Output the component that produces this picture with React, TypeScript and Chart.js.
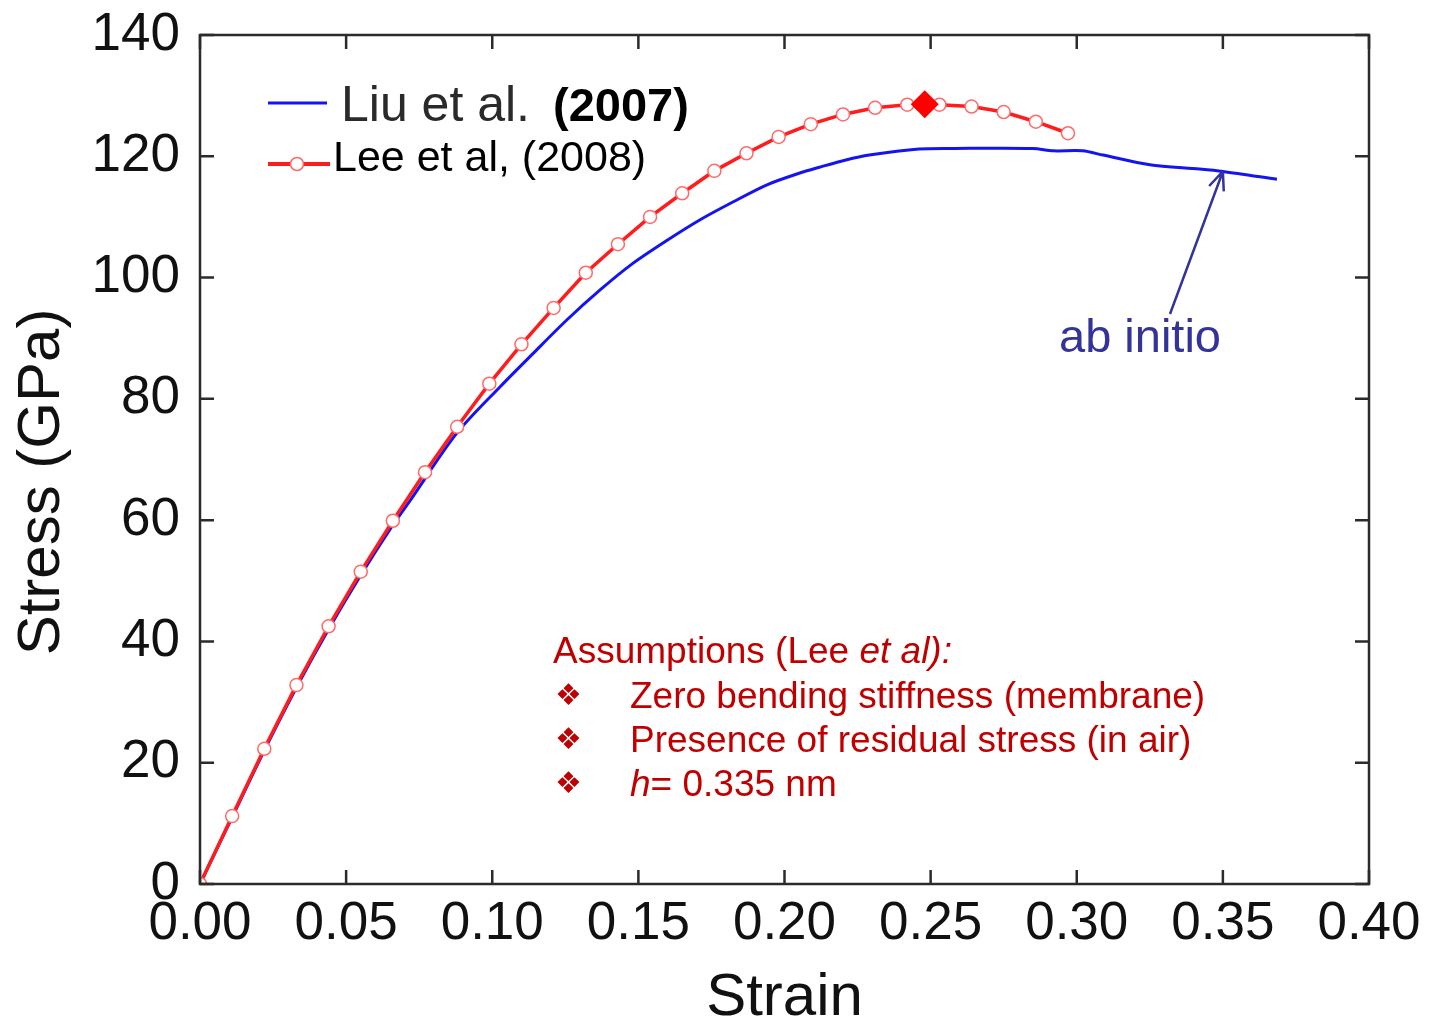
import React, { useEffect, useRef } from "react";
import { Chart, registerables } from "chart.js";

Chart.register(...registerables);

// ---- data ----
const X_TICKS = [0, 0.05, 0.1, 0.15, 0.2, 0.25, 0.3, 0.35, 0.4];
const Y_TICKS = [0, 20, 40, 60, 80, 100, 120, 140];

// Liu et al. (2007) ab initio curve
const LIU_STRAIN = [0, 0.011, 0.022, 0.033, 0.044, 0.055, 0.066, 0.072, 0.0878, 0.1027, 0.114, 0.1255, 0.137, 0.148, 0.16, 0.171, 0.1825, 0.194, 0.205, 0.212, 0.221, 0.229, 0.246, 0.258, 0.285, 0.292, 0.302, 0.309, 0.325, 0.342, 0.35, 0.3685];
const LIU_STRESS = [0, 11, 22, 32.4, 42, 50.9, 59.2, 63.3, 74.3, 82.0, 87.5, 93.0, 98.0, 102.3, 106.2, 109.5, 112.5, 115.3, 117.2, 118.2, 119.4, 120.2, 121.2, 121.3, 121.3, 120.9, 120.9, 120.2, 118.6, 117.9, 117.5, 116.2];

// Lee et al. (2008) curve
const LEE_STRAIN = [0, 0.011, 0.022, 0.033, 0.044, 0.055, 0.066, 0.077, 0.088, 0.099, 0.11, 0.121, 0.132, 0.143, 0.154, 0.165, 0.176, 0.187, 0.198, 0.209, 0.22, 0.231, 0.242, 0.253, 0.264, 0.275, 0.286, 0.297];
const LEE_STRESS = [0, 11.2, 22.3, 32.8, 42.5, 51.5, 59.9, 67.9, 75.4, 82.5, 89.0, 95.0, 100.8, 105.5, 110.0, 113.9, 117.6, 120.5, 123.2, 125.3, 126.9, 128.0, 128.5, 128.5, 128.2, 127.3, 125.7, 123.8];

// failure point (filled diamond)
const PEAK_STRAIN = [0.248];
const PEAK_STRESS = [128.6];

// ab initio arrow target
const ARROW_STRAIN = 0.35;
const ARROW_STRESS = 117.5;

const Y_TITLE = "Stress (GPa)";
const LEGEND_LABELS = ["Liu et al.", "(2007)", "Lee et al, (2008)"];
const NOTE_LINES = [
  "Zero bending stiffness (membrane)",
  "Presence of residual stress (in air)",
  "= 0.335 nm",
];

const FONT = '"Liberation Sans", Arial, Helvetica, sans-serif';
const RED = "#ff1c1c";
const BLUE = "#1414f0";
const NOTE_RED = "#c00000";
const INDIGO = "#333399";

const decorPlugin = {
  id: "decor",
  afterDraw(chart: any) {
    const { ctx, chartArea, scales } = chart;
    const { left, right, top, bottom } = chartArea;
    const xs = scales.x;
    const ys = scales.y;
    ctx.save();
    // frame
    ctx.strokeStyle = "#2b2b2b";
    ctx.lineWidth = 2.5;
    ctx.strokeRect(left, top, right - left, bottom - top);
    // inward ticks
    const tl = 14;
    ctx.beginPath();
    X_TICKS.forEach((v) => {
      const px = xs.getPixelForValue(v);
      ctx.moveTo(px, bottom);
      ctx.lineTo(px, bottom - tl);
      ctx.moveTo(px, top);
      ctx.lineTo(px, top + tl);
    });
    Y_TICKS.forEach((v) => {
      const py = ys.getPixelForValue(v);
      ctx.moveTo(left, py);
      ctx.lineTo(left + tl, py);
      ctx.moveTo(right, py);
      ctx.lineTo(right - tl, py);
    });
    ctx.stroke();

    // y-axis title
    ctx.save();
    ctx.translate(42, 482);
    ctx.rotate(-Math.PI / 2);
    ctx.textAlign = "center";
    ctx.textBaseline = "middle";
    ctx.fillStyle = "#111";
    ctx.font = `60px ${FONT}`;
    ctx.fillText(Y_TITLE, 0, 0);
    ctx.restore();

    // legend
    ctx.lineCap = "butt";
    ctx.strokeStyle = BLUE;
    ctx.lineWidth = 3;
    ctx.beginPath();
    ctx.moveTo(268, 103);
    ctx.lineTo(327, 103);
    ctx.stroke();
    ctx.textBaseline = "alphabetic";
    ctx.textAlign = "left";
    ctx.fillStyle = "#2a2a2a";
    ctx.font = `50px ${FONT}`;
    ctx.fillText(LEGEND_LABELS[0], 341, 121);
    ctx.fillStyle = "#000";
    ctx.font = `bold 47px ${FONT}`;
    ctx.fillText(LEGEND_LABELS[1], 553, 121);

    ctx.strokeStyle = RED;
    ctx.lineWidth = 4;
    ctx.beginPath();
    ctx.moveTo(268, 164);
    ctx.lineTo(330, 164);
    ctx.stroke();
    ctx.beginPath();
    ctx.arc(297, 164, 6.5, 0, Math.PI * 2);
    ctx.fillStyle = "#fff";
    ctx.fill();
    ctx.lineWidth = 1.5;
    ctx.strokeStyle = "#ff6666";
    ctx.stroke();
    ctx.fillStyle = "#000";
    ctx.font = `43px ${FONT}`;
    ctx.fillText(LEGEND_LABELS[2], 333, 171);

    // assumptions note
    ctx.fillStyle = NOTE_RED;
    ctx.font = `37px ${FONT}`;
    let x0 = 553;
    const a = "Assumptions (Lee ";
    ctx.fillText(a, x0, 663);
    x0 += ctx.measureText(a).width;
    ctx.font = `italic 37px ${FONT}`;
    ctx.fillText("et al):", x0, 663);

    const baselines = [708, 752, 796];
    baselines.forEach((b, i) => {
      ctx.font = `30px "DejaVu Sans", sans-serif`;
      ctx.fillText("\u2756", 555, b - 3);
      if (i === 2) {
        ctx.font = `italic 37px ${FONT}`;
        ctx.fillText("h", 630, b);
        const w = ctx.measureText("h").width;
        ctx.font = `37px ${FONT}`;
        ctx.fillText(NOTE_LINES[i], 630 + w, b);
      } else {
        ctx.font = `37px ${FONT}`;
        ctx.fillText(NOTE_LINES[i], 630, b);
      }
    });

    // ab initio label + arrow
    ctx.fillStyle = INDIGO;
    ctx.font = `47px ${FONT}`;
    ctx.fillText("ab initio", 1059, 352);
    const tx = xs.getPixelForValue(ARROW_STRAIN);
    const ty = ys.getPixelForValue(ARROW_STRESS);
    const sx = 1170;
    const sy = 314;
    ctx.strokeStyle = INDIGO;
    ctx.lineWidth = 2.5;
    ctx.beginPath();
    ctx.moveTo(sx, sy);
    ctx.lineTo(tx, ty);
    const ang = Math.atan2(ty - sy, tx - sx);
    const hl = 20;
    ctx.moveTo(tx, ty);
    ctx.lineTo(tx - hl * Math.cos(ang - 0.4), ty - hl * Math.sin(ang - 0.4));
    ctx.moveTo(tx, ty);
    ctx.lineTo(tx - hl * Math.cos(ang + 0.4), ty - hl * Math.sin(ang + 0.4));
    ctx.stroke();
    ctx.restore();
  },
};

export default function App() {
  const ref = useRef<HTMLCanvasElement>(null);
  useEffect(() => {
    if (!ref.current) return;
    const chart = new Chart(ref.current, {
      type: "line",
      data: {
        datasets: [
          {
            label: "peak",
            data: PEAK_STRAIN.map((x, i) => ({ x, y: PEAK_STRESS[i] })),
            showLine: false,
            pointStyle: "rectRot",
            pointRadius: 14,
            pointBackgroundColor: "#ff0000",
            pointBorderColor: "#ff0000",
            pointBorderWidth: 0,
            order: 0,
          },
          {
            label: "Lee et al, (2008)",
            data: LEE_STRAIN.map((x, i) => ({ x, y: LEE_STRESS[i] })),
            borderColor: RED,
            borderWidth: 3.5,
            pointRadius: 6.5,
            pointBackgroundColor: "#ffffff",
            pointBorderColor: "#ff6a6a",
            pointBorderWidth: 1.5,
            tension: 0,
            order: 1,
          },
          {
            label: "Liu et al. (2007)",
            data: LIU_STRAIN.map((x, i) => ({ x, y: LIU_STRESS[i] })),
            borderColor: BLUE,
            borderWidth: 3,
            pointRadius: 0,
            tension: 0.3,
            order: 2,
          },
        ],
      },
      options: {
        animation: false,
        responsive: false,
        maintainAspectRatio: false,
        layout: { padding: { top: 35, right: 64, left: 0, bottom: 0 } },
        plugins: {
          legend: { display: false },
          tooltip: { enabled: false },
        },
        scales: {
          x: {
            type: "linear",
            min: 0,
            max: 0.4,
            afterBuildTicks: (s: any) => {
              s.ticks = X_TICKS.map((v) => ({ value: v }));
            },
            afterFit: (s: any) => {
              s.height = 139;
              s.paddingRight = 0;
            },
            grid: { display: false, drawTicks: false },
            border: { display: false },
            ticks: {
              padding: 14,
              color: "#111",
              font: { family: FONT, size: 53, lineHeight: 1 },
              maxRotation: 0,
              autoSkip: false,
              callback: (v: any) => Number(v).toFixed(2),
            },
            title: {
              display: true,
              text: "Strain",
              color: "#111",
              font: { family: FONT, size: 60, lineHeight: 0.8 },
              padding: { top: 0, bottom: 1 },
            },
          },
          y: {
            type: "linear",
            min: 0,
            max: 140,
            afterBuildTicks: (s: any) => {
              s.ticks = Y_TICKS.map((v) => ({ value: v }));
            },
            afterFit: (s: any) => {
              s.width = 200;
            },
            grid: { display: false, drawTicks: false },
            border: { display: false },
            ticks: {
              padding: 20,
              color: "#111",
              font: { family: FONT, size: 53, lineHeight: 0.4 },
              autoSkip: false,
              callback: (v: any) => String(v),
            },
            title: { display: false },
          },
        },
      },
      plugins: [decorPlugin],
    });
    return () => chart.destroy();
  }, []);
  return (
    <div style={{ position: "absolute", left: 0, top: 0, width: 1433, height: 1023 }}>
      <canvas ref={ref} width={1433} height={1023} style={{ display: "block" }} />
    </div>
  );
}
